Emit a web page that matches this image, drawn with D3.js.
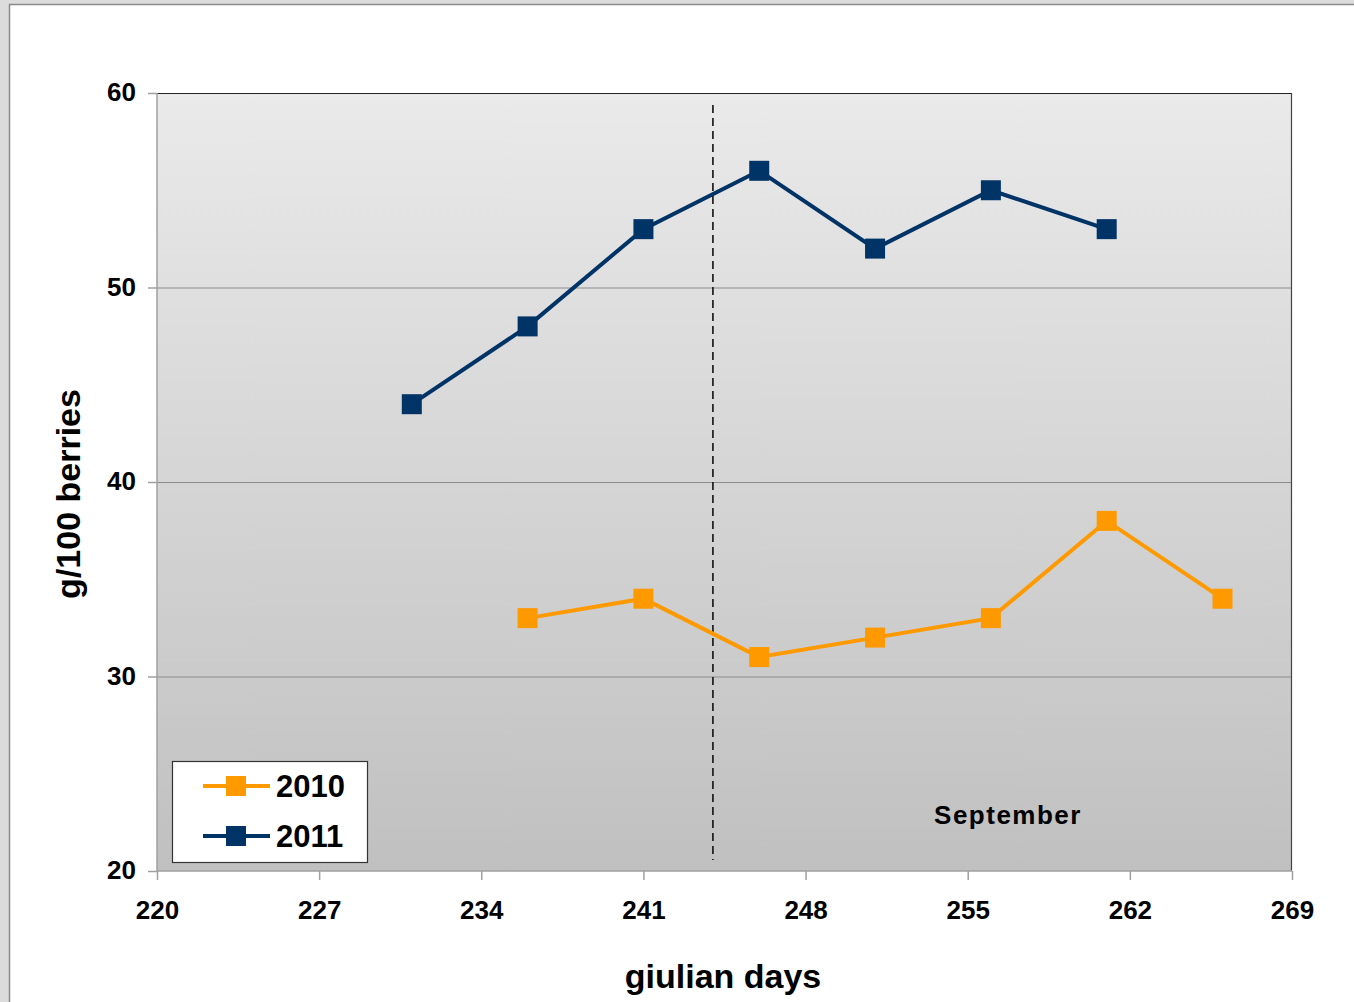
<!DOCTYPE html>
<html>
<head>
<meta charset="utf-8">
<script src="https://cdn.jsdelivr.net/npm/d3@7"></script>
<style>
  html, body { margin: 0; padding: 0; background: #dcdcdc; }
  svg { display: block; }
</style>
</head>
<body>
<svg id="chart" width="1354" height="1002"></svg>
<script>
// ---- data ----
const days2010 = [236, 241, 246, 251, 256, 261, 266];
const values2010 = [33, 34, 31, 32, 33, 38, 34];
const days2011 = [231, 236, 241, 246, 251, 256, 261];
const values2011 = [44, 48, 53, 56, 52, 55, 53];
const xTicks = [220, 227, 234, 241, 248, 255, 262, 269];
const yTicks = [20, 30, 40, 50, 60];
const seriesNames = ["2010", "2011"];
const seriesColors = ["#ff9900", "#003366"];
const septemberStart = 244;

const svg = d3.select("#chart");
const W = 1354, H = 1002;

// outer panel
svg.append("rect").attr("x", 0).attr("y", 0).attr("width", W).attr("height", H).attr("fill", "#dcdcdc");
svg.append("rect").attr("x", 9.5).attr("y", 4.5).attr("width", W + 20).attr("height", H + 20)
  .attr("fill", "#ffffff").attr("stroke", "#8a8a8a").attr("stroke-width", 1.5);

const plot = { left: 157, right: 1292, top: 93, bottom: 871 };
const x = d3.scaleLinear().domain([220, 269]).range([plot.left, plot.right]);
const y = d3.scaleLinear().domain([20, 60]).range([plot.bottom, plot.top]);

// gradient background
const defs = svg.append("defs");
const grad = defs.append("linearGradient").attr("id", "bg").attr("x1", 0).attr("y1", 0).attr("x2", 0).attr("y2", 1);
grad.append("stop").attr("offset", "0%").attr("stop-color", "#eaeaea");
grad.append("stop").attr("offset", "100%").attr("stop-color", "#c0c0c0");
svg.append("rect").attr("x", plot.left).attr("y", plot.top)
  .attr("width", plot.right - plot.left).attr("height", plot.bottom - plot.top)
  .attr("fill", "url(#bg)");

// gridlines
svg.append("g").selectAll("line").data(yTicks.filter(d => d > 20 && d < 60)).join("line")
  .attr("x1", plot.left).attr("x2", plot.right)
  .attr("y1", d => y(d) + 0.5).attr("y2", d => y(d) + 0.5)
  .attr("stroke", "#8c8c8c").attr("stroke-width", 1);

// plot borders: top & right dark, left & bottom gray
svg.append("line").attr("x1", plot.left).attr("x2", plot.right).attr("y1", plot.top + 0.5).attr("y2", plot.top + 0.5)
  .attr("stroke", "#222").attr("stroke-width", 1.2);
svg.append("line").attr("x1", plot.right - 0.5).attr("x2", plot.right - 0.5).attr("y1", plot.top).attr("y2", plot.bottom)
  .attr("stroke", "#444").attr("stroke-width", 1.2);

// axes
const fontFam = "'Liberation Sans', Arial, sans-serif";
const yAxis = d3.axisLeft(y).tickValues(yTicks).tickSize(9).tickPadding(12).tickFormat(d3.format("d"));
const gy = svg.append("g").attr("transform", `translate(${plot.left},0)`).call(yAxis);
const xAxis = d3.axisBottom(x).tickValues(xTicks).tickSize(9).tickPadding(14).tickFormat(d3.format("d"));
const gx = svg.append("g").attr("transform", `translate(0,${plot.bottom})`).call(xAxis);
[gx, gy].forEach(g => {
  g.select(".domain").attr("stroke", "#a0a0a0").attr("stroke-width", 1.5);
  g.selectAll(".tick line").attr("stroke", "#a0a0a0").attr("stroke-width", 1.5);
  g.selectAll(".tick text").attr("fill", "#000").attr("font-family", fontFam)
    .attr("font-weight", "bold").attr("font-size", 26);
});
gy.selectAll(".tick text").attr("dy", "0.3em");
gx.selectAll(".tick text").attr("dy", "0.95em");
gy.select(".domain").attr("d", `M0,${plot.top}V${plot.bottom}`);
gx.select(".domain").attr("d", `M${plot.left},0H${plot.right}`);

// September dashed line
svg.append("line").attr("x1", x(septemberStart)).attr("x2", x(septemberStart))
  .attr("y1", 105).attr("y2", 860)
  .attr("stroke", "#111").attr("stroke-width", 1.6).attr("stroke-dasharray", "8,5");

// series
const series = [
  { name: seriesNames[0], color: seriesColors[0], pts: days2010.map((d, i) => [d, values2010[i]]) },
  { name: seriesNames[1], color: seriesColors[1], pts: days2011.map((d, i) => [d, values2011[i]]) }
];
const line = d3.line().x(d => x(d[0])).y(d => y(d[1]));
const ms = 20;
series.forEach(s => {
  svg.append("path").datum(s.pts).attr("d", line).attr("fill", "none")
    .attr("stroke", s.color).attr("stroke-width", 4).attr("stroke-linejoin", "miter");
  svg.append("g").selectAll("rect").data(s.pts).join("rect")
    .attr("x", d => x(d[0]) - ms / 2).attr("y", d => y(d[1]) - ms / 2)
    .attr("width", ms).attr("height", ms).attr("fill", s.color);
});

// September label
svg.append("text").attr("x", 1008).attr("y", 824).attr("text-anchor", "middle")
  .attr("font-family", fontFam).attr("font-weight", "bold").attr("font-size", 26)
  .attr("letter-spacing", 1.5).attr("fill", "#000").text("September");

// axis titles
svg.append("text").attr("x", 723).attr("y", 988).attr("text-anchor", "middle")
  .attr("font-family", fontFam).attr("font-weight", "bold").attr("font-size", 34)
  .attr("fill", "#000").text("giulian days");
svg.append("text").attr("transform", "translate(80,494) rotate(-90)").attr("text-anchor", "middle")
  .attr("font-family", fontFam).attr("font-weight", "bold").attr("font-size", 34)
  .attr("fill", "#000").text("g/100 berries");

// legend
const lg = svg.append("g");
lg.append("rect").attr("x", 172.5).attr("y", 761.5).attr("width", 195).attr("height", 101)
  .attr("fill", "#fff").attr("stroke", "#333").attr("stroke-width", 1.2);
series.forEach((s, i) => {
  const cy = 786 + i * 50;
  lg.append("line").attr("x1", 203).attr("x2", 270).attr("y1", cy).attr("y2", cy)
    .attr("stroke", s.color).attr("stroke-width", 4);
  lg.append("rect").attr("x", 236 - ms / 2).attr("y", cy - ms / 2).attr("width", ms).attr("height", ms)
    .attr("fill", s.color);
  lg.append("text").attr("x", 276).attr("y", cy + 11).attr("font-family", fontFam)
    .attr("font-weight", "bold").attr("font-size", 31).attr("fill", "#000").text(s.name);
});
</script>
</body>
</html>
